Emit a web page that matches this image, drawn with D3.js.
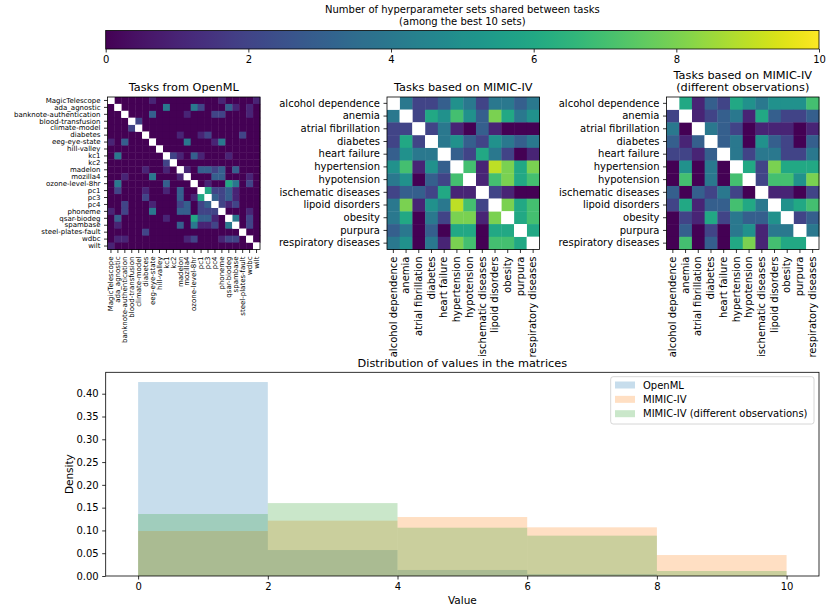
<!DOCTYPE html>
<html><head><meta charset="utf-8">
<script src="https://cdn.jsdelivr.net/npm/d3@7"></script>
<style>body{margin:0;background:#fff} text{font-family:"DejaVu Sans",sans-serif;fill:#000}</style>
</head><body><svg id="c" width="831" height="611" style="background:#fff"></svg>
<script>
// ---------------- data ----------------
const openmlTasks = ["MagicTelescope","ada_agnostic","banknote-authentication","blood-transfusion","climate-model","diabetes","eeg-eye-state","hill-valley","kc1","kc2","madelon","mozilla4","ozone-level-8hr","pc1","pc3","pc4","phoneme","qsar-biodeg","spambase","steel-plates-fault","wdbc","wilt"];
const openmlMatrix = [
 [null,0,0,0,0,0,1,0,0,0,0,0,0,0,0,0,1,0,0,0,0,1],
 [0,null,0,0,0,0,0,0,4,0,0,0,4,2,0,0,0,3,1,0,1,0],
 [0,0,null,0,0,0,3,0,0,0,0,1,0,0,0,2,2,0,0,0,1,0],
 [0,0,0,null,2,0,0,0,0,0,0,0,0,0,0,0,0,0,0,0,0,0],
 [0,0,0,2,null,0,0,0,0,0,0,0,0,0,0,0,0,0,0,0,0,0],
 [0,0,0,0,0,null,0,0,0,0,1,0,0,1,2,0,0,0,0,2,0,0],
 [1,0,3,0,0,0,null,0,0,0,0,4,0,0,0,1,4,0,0,0,0,0],
 [0,0,0,0,0,0,0,null,0,0,0,0,0,0,0,0,0,0,0,0,0,0],
 [0,4,0,0,0,0,0,0,null,2,1,0,3,1,0,0,0,1,0,0,0,0],
 [0,0,0,0,0,0,0,0,2,null,0,0,0,0,0,0,0,0,0,0,0,0],
 [0,0,0,0,0,1,0,0,1,0,null,1,0,3,3,2,3,0,3,0,0,0],
 [0,0,1,0,0,0,4,0,0,0,1,null,0,0,0,3,3,0,0,0,1,0],
 [0,4,0,0,0,0,0,0,3,0,0,0,null,0,1,0,0,6,4,0,2,0],
 [0,2,0,0,0,1,0,0,1,0,3,0,0,null,6,2,2,3,1,0,0,0],
 [0,0,0,0,0,2,0,0,0,0,3,0,1,6,null,3,2,3,1,0,0,0],
 [0,0,2,0,0,0,1,0,0,0,2,3,0,2,3,null,2,1,2,0,0,0],
 [1,0,2,0,0,0,4,0,0,0,3,3,0,2,2,2,null,0,0,0,1,0],
 [0,3,0,0,0,0,0,0,1,0,0,0,6,3,3,1,0,null,4,0,2,0],
 [0,1,0,0,0,0,0,0,0,0,3,0,4,1,1,2,0,4,null,0,2,0],
 [0,0,0,0,0,2,0,0,0,0,0,0,0,0,0,0,0,0,0,null,0,0],
 [0,1,1,0,0,0,0,0,0,0,0,1,2,0,0,0,1,2,2,0,null,0],
 [1,0,0,0,0,0,0,0,0,0,0,0,0,0,0,0,0,0,0,0,0,null]
];
const mimicTasks = ["alcohol dependence","anemia","atrial fibrillation","diabetes","heart failure","hypertension","hypotension","ischematic diseases","lipoid disorders","obesity","purpura","respiratory diseases"];
const mimicMatrix = [
 [null,4,2,2,3,5,4,2,4,4,3,4],
 [4,null,2,6,5,7,5,3,8,6,4,5],
 [2,2,null,2,4,1,0,3,1,0,0,0],
 [2,6,2,null,4,5,3,2,5,4,3,4],
 [3,5,4,4,null,3,2,6,4,2,0,1],
 [5,7,1,5,3,null,7,1,9,8,6,8],
 [4,5,0,3,2,7,null,1,7,8,6,7],
 [2,3,3,2,6,1,1,null,2,1,0,0],
 [4,8,1,5,4,9,7,2,null,8,6,7],
 [4,6,0,4,2,8,8,1,8,null,6,7],
 [3,4,0,3,0,6,6,0,6,6,null,6],
 [4,5,0,4,1,8,7,0,7,7,6,null]
];
const mimicDiffMatrix = [
 [null,6,1,3,2,6,5,4,5,5,5,7],
 [2,null,1,2,3,4,1,6,3,2,2,3],
 [4,0,null,4,3,2,0,1,1,1,0,1],
 [3,1,3,null,3,4,0,5,3,2,0,3],
 [2,2,1,3,null,4,2,4,4,2,2,4],
 [0,5,0,4,0,null,6,2,8,6,6,6],
 [0,7,0,4,0,7,null,2,7,7,5,8],
 [3,0,3,2,4,2,0,null,1,1,0,2],
 [2,6,1,3,3,7,6,4,null,5,6,7],
 [0,2,1,6,2,4,3,3,5,null,2,3],
 [0,3,0,2,0,4,5,1,4,4,null,4],
 [0,7,0,3,0,6,8,1,7,6,6,null]
];
const colorTicks = [0,2,4,6,8,10];
const binEdges = [0,2,4,6,8,10];
const histLabels = ["OpenML","MIMIC-IV","MIMIC-IV (different observations)"];
const openmlDensity = [0.4256,0.057,0.0132,0.0044,0.0];
const mimicDensity = [0.0987,0.1214,0.1294,0.1068,0.046];
const mimicDiffDensity = [0.136,0.160,0.106,0.0885,0.011];
const histXTicks = [0,2,4,6,8,10];
const histYTicks = [0,0.05,0.10,0.15,0.20,0.25,0.30,0.35,0.40];

// ---------------- drawing ----------------
const svg = d3.select("#c");
svg.append("rect").attr("width",831).attr("height",611).attr("fill","#fff");
const color = d3.scaleSequential(d3.interpolateViridis).domain([0,10]);
const FONT = "DejaVu Sans";

// colorbar
const cbX = d3.scaleLinear().domain([0,10]).range([105.7,819]);
const cbTop = 30.5, cbBot = 49;
const defs = svg.append("defs");
const grad = defs.append("linearGradient").attr("id","vir").attr("x1","0%").attr("x2","100%");
d3.range(0,1.0001,0.02).forEach(t=>grad.append("stop").attr("offset",(t*100)+"%").attr("stop-color",d3.interpolateViridis(t)));
svg.append("rect").attr("x",cbX(0)).attr("y",cbTop).attr("width",cbX(10)-cbX(0)).attr("height",cbBot-cbTop)
  .attr("fill","url(#vir)").attr("stroke","#000").attr("stroke-width",0.8);
const cbAxis = svg.append("g").attr("transform",`translate(0,${cbBot})`)
  .call(d3.axisBottom(cbX).tickValues(colorTicks).tickSize(3.5).tickPadding(3.5).tickFormat(d3.format("d")));
cbAxis.select(".domain").remove();
cbAxis.selectAll("text").attr("font-size",10).attr("font-family",FONT);
cbAxis.selectAll("line").attr("stroke-width",0.8);
const cbMid = (cbX(0)+cbX(10))/2;
svg.append("text").attr("x",cbMid).attr("y",12.5).attr("text-anchor","middle").attr("font-size",10)
  .text("Number of hyperparameter sets shared between tasks");
svg.append("text").attr("x",cbMid).attr("y",24.5).attr("text-anchor","middle").attr("font-size",10)
  .text("(among the best 10 sets)");

function heatmap(tasks, matrix, x0, y0, size, fs, titles){
  const g = svg.append("g");
  const x = d3.scaleBand().domain(tasks).range([x0,x0+size]);
  const y = d3.scaleBand().domain(tasks).range([y0,y0+size]);
  const cells = [];
  matrix.forEach((row,i)=>row.forEach((v,j)=>cells.push({r:tasks[i],c:tasks[j],v})));
  g.selectAll("rect.cell").data(cells).join("rect").attr("class","cell")
    .attr("x",d=>x(d.c)).attr("y",d=>y(d.r))
    .attr("width",x.bandwidth()+0.4).attr("height",y.bandwidth()+0.4)
    .attr("fill",d=>d.v==null?"#fff":color(d.v));
  g.selectAll("rect.diag").data(cells.filter(d=>d.v==null)).join("rect")
    .attr("x",d=>x(d.c)).attr("y",d=>y(d.r)).attr("width",x.bandwidth()).attr("height",y.bandwidth()).attr("fill","#fff");
  g.append("rect").attr("x",x0).attr("y",y0).attr("width",size).attr("height",size)
    .attr("fill","none").attr("stroke","#000").attr("stroke-width",0.8);
  const ya = g.append("g").attr("transform",`translate(${x0},0)`)
    .call(d3.axisLeft(y).tickSize(3.5).tickPadding(3.5));
  ya.select(".domain").remove();
  ya.selectAll("text").attr("font-size",fs).attr("font-family",FONT);
  ya.selectAll("line").attr("stroke-width",0.8);
  const xa = g.append("g").attr("transform",`translate(0,${y0+size})`)
    .call(d3.axisBottom(x).tickSize(3.5).tickPadding(3.5));
  xa.select(".domain").remove();
  xa.selectAll("line").attr("stroke-width",0.8);
  xa.selectAll("text").attr("font-size",fs).attr("font-family",FONT)
    .attr("transform","rotate(-90)").attr("text-anchor","end")
    .attr("x",-7).attr("y",0).attr("dy","0.32em");
  const cx = x0+size/2;
  titles.forEach((t,k)=>{
    g.append("text").attr("x",cx).attr("y",y0-6-(titles.length-1-k)*12.5).attr("text-anchor","middle")
      .attr("font-size",11.3).text(t);
  });
}
heatmap(openmlTasks, openmlMatrix, 107.5, 97, 152.5, 7, ["Tasks from OpenML"]);
heatmap(mimicTasks, mimicMatrix, 387, 97, 152.5, 10, ["Tasks based on MIMIC-IV"]);
heatmap(mimicTasks, mimicDiffMatrix, 666.5, 97, 152.5, 10, ["Tasks based on MIMIC-IV","(different observations)"]);

// histogram
const hx = d3.scaleLinear().domain([-0.5,10.5]).range([105.7,819]);
const hy = d3.scaleLinear().domain([0,0.447]).range([576,372.3]);
const series = [
  {name:histLabels[0], vals:openmlDensity, col:"#1f77b4"},
  {name:histLabels[1], vals:mimicDensity, col:"#ff7f0e"},
  {name:histLabels[2], vals:mimicDiffDensity, col:"#2ca02c"}
];
const hg = svg.append("g");
series.forEach(s=>{
  hg.append("g").selectAll("rect").data(s.vals.map((v,i)=>({x0:binEdges[i],x1:binEdges[i+1],v})))
    .join("rect").attr("x",d=>hx(d.x0)).attr("width",d=>hx(d.x1)-hx(d.x0))
    .attr("y",d=>hy(d.v)).attr("height",d=>hy(0)-hy(d.v))
    .attr("fill",s.col).attr("fill-opacity",0.25);
});
hg.append("rect").attr("x",105.7).attr("y",372.3).attr("width",819-105.7).attr("height",576-372.3)
  .attr("fill","none").attr("stroke","#000").attr("stroke-width",0.8);
const hxa = hg.append("g").attr("transform","translate(0,576)")
  .call(d3.axisBottom(hx).tickValues(histXTicks).tickSize(3.5).tickPadding(3.5).tickFormat(d3.format("d")));
hxa.select(".domain").remove();
hxa.selectAll("text").attr("font-size",10).attr("font-family",FONT);
hxa.selectAll("line").attr("stroke-width",0.8);
const hya = hg.append("g").attr("transform","translate(105.7,0)")
  .call(d3.axisLeft(hy).tickValues(histYTicks).tickSize(3.5).tickPadding(3.5).tickFormat(d3.format(".2f")));
hya.select(".domain").remove();
hya.selectAll("text").attr("font-size",10).attr("font-family",FONT);
hya.selectAll("line").attr("stroke-width",0.8);
svg.append("text").attr("x",(105.7+819)/2).attr("y",367).attr("text-anchor","middle").attr("font-size",11.3)
  .text("Distribution of values in the matrices");
svg.append("text").attr("x",(105.7+819)/2).attr("y",603.5).attr("text-anchor","middle").attr("font-size",10.5).text("Value");
svg.append("text").attr("transform",`translate(72.5,${(372.3+576)/2}) rotate(-90)`).attr("text-anchor","middle")
  .attr("font-size",10.5).text("Density");

// legend
const lg = svg.append("g");
lg.append("rect").attr("x",610.7).attr("y",376.7).attr("width",203.3).attr("height",47.3).attr("rx",2.5)
  .attr("fill","#fff").attr("fill-opacity",0.8).attr("stroke","#ccc").attr("stroke-width",0.8);
series.forEach((s,i)=>{
  const cy = 385 + i*14.35;
  lg.append("rect").attr("x",615).attr("y",cy-3.5).attr("width",20).attr("height",7)
    .attr("fill",s.col).attr("fill-opacity",0.25);
  lg.append("text").attr("x",643).attr("y",cy+3.6).attr("font-size",10).text(s.name);
});
</script></body></html>
